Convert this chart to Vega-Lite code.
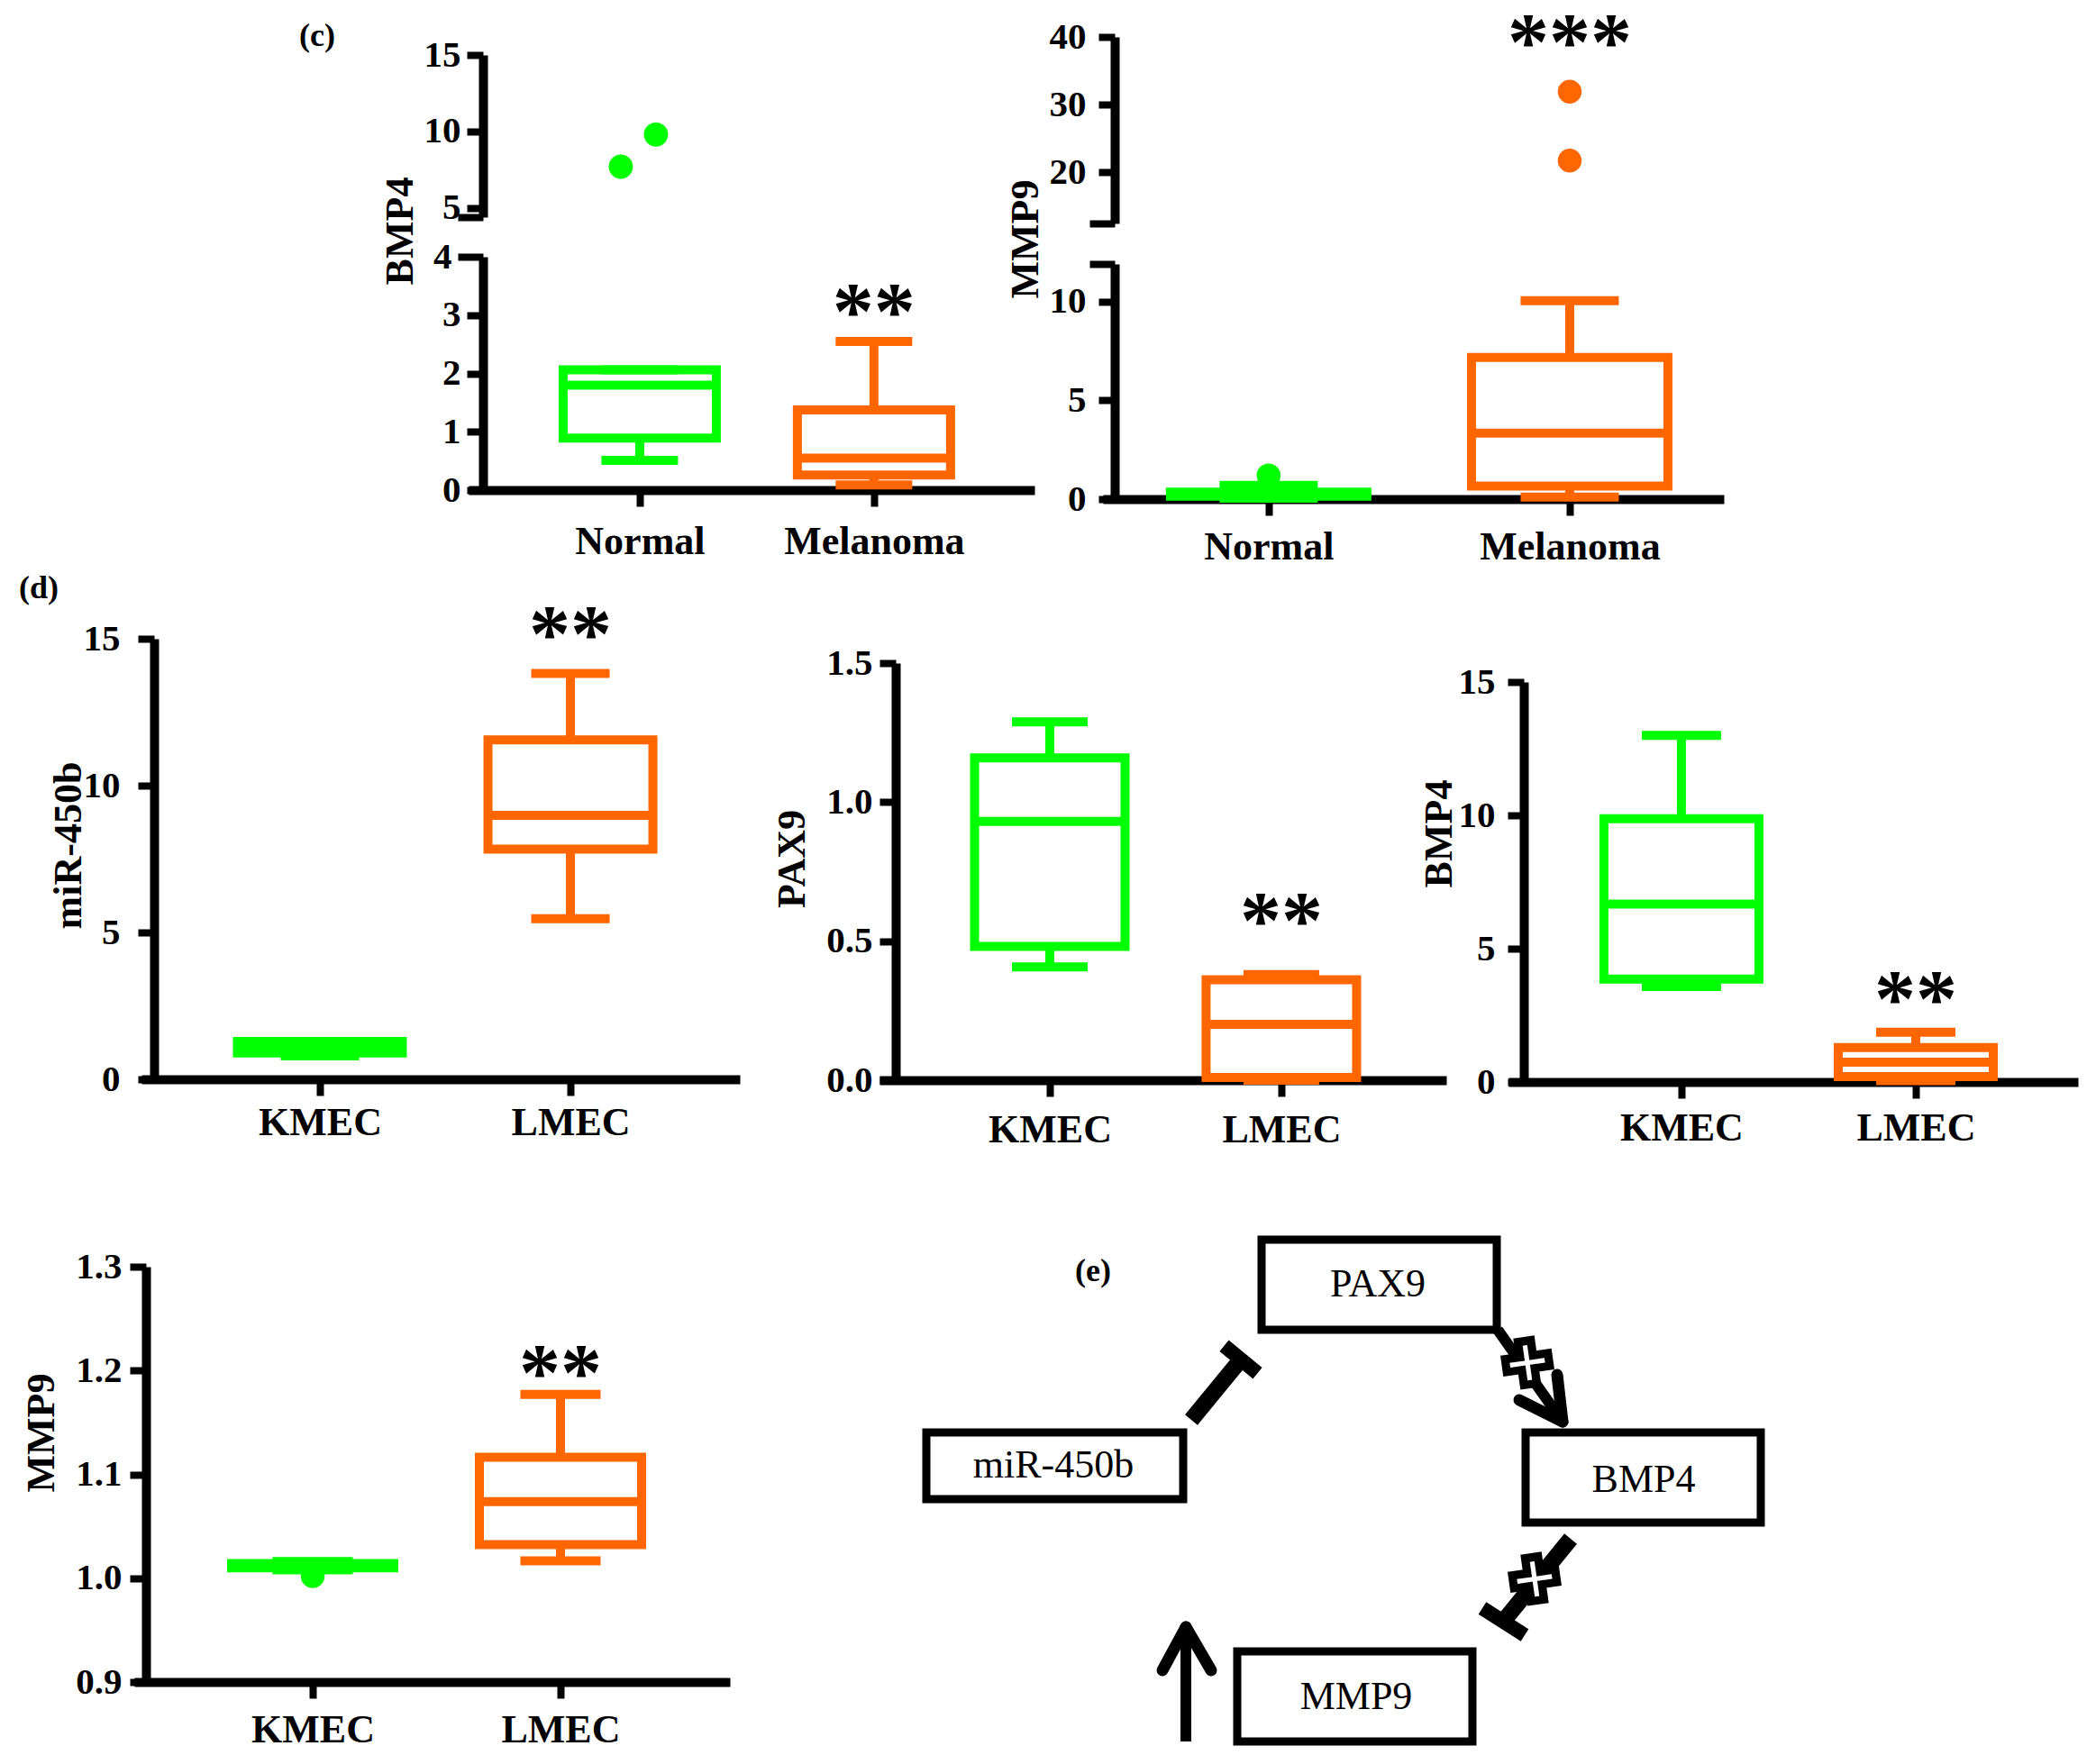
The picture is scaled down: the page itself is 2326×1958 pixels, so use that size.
{
"$schema":"https://vega.github.io/schema/vega-lite/v6.json",
"width":2326,"height":1958,"autosize":{"type":"none"},"padding":0,"background":"white",
"config":{
 "view":{"stroke":null},
 "axis":{"domainColor":"#000000","domainWidth":10,"tickColor":"#000000","tickWidth":8,"tickSize":18,
  "labelFont":"Liberation Serif","labelFontWeight":"bold","labelFontSize":41,"labelColor":"#000000","labelLimit":0,
  "titleFont":"Liberation Serif","titleFontWeight":"bold","titleFontSize":44,"titleColor":"#000000","titleLimit":0,
  "grid":false,"labelOverlap":false,"labelFlush":false},
 "axisX":{"labelFontSize":44,"labelAngle":0},
 "axisY":{"titleAngle":270,"titleAlign":"center","titleBaseline":"middle"},
 "tick":{"opacity":1}
},
"datasets":{
 "boxes":[
  {"panel":"c_bmp4","group":"Normal","min":0.51,"q1":0.89,"median":1.8,"q3":2.06,"max":2.06},
  {"panel":"c_bmp4","group":"Melanoma","min":0.09,"q1":0.26,"median":0.55,"q3":1.375,"max":2.55},
  {"panel":"c_mmp9","group":"Normal","min":0.05,"q1":0.15,"median":0.25,"q3":0.35,"max":0.7},
  {"panel":"c_mmp9","group":"Melanoma","min":0.1,"q1":0.66,"median":3.34,"q3":7.17,"max":10.04},
  {"panel":"d_mir","group":"KMEC","min":0.8,"q1":0.9,"median":1.05,"q3":1.29,"max":1.29},
  {"panel":"d_mir","group":"LMEC","min":5.47,"q1":7.84,"median":8.99,"q3":11.56,"max":13.82},
  {"panel":"d_pax9","group":"KMEC","min":0.407,"q1":0.481,"median":0.931,"q3":1.159,"max":1.289},
  {"panel":"d_pax9","group":"LMEC","min":0.0,"q1":0.01,"median":0.201,"q3":0.361,"max":0.38},
  {"panel":"d_bmp4","group":"KMEC","min":3.58,"q1":3.86,"median":6.67,"q3":9.87,"max":13.0},
  {"panel":"d_bmp4","group":"LMEC","min":0.05,"q1":0.2,"median":0.74,"q3":1.29,"max":1.87},
  {"panel":"d_mmp9","group":"KMEC","min":1.008,"q1":1.01,"median":1.012,"q3":1.014,"max":1.016},
  {"panel":"d_mmp9","group":"LMEC","min":1.0168,"q1":1.0323,"median":1.0737,"q3":1.1165,"max":1.177}
 ],
 "outliers":[
  {"panel":"c_bmp4","group":"Normal","value":7.7},
  {"panel":"c_bmp4","group":"Normal","value":9.8},
  {"panel":"c_mmp9","group":"Normal","value":1.2},
  {"panel":"c_mmp9","group":"Melanoma","value":21.7},
  {"panel":"c_mmp9","group":"Melanoma","value":31.9},
  {"panel":"d_mmp9","group":"KMEC","value":1.002}
 ],
 "notes":[
  {"panel":"c_bmp4","group":"Melanoma","value":2.59,"label":"**"},
  {"panel":"c_mmp9","group":"Melanoma","value":35.2,"label":"***"},
  {"panel":"d_mir","group":"LMEC","value":14.23,"label":"**"},
  {"panel":"d_pax9","group":"LMEC","value":0.476,"label":"**"},
  {"panel":"d_bmp4","group":"LMEC","value":2.09,"label":"**"},
  {"panel":"d_mmp9","group":"LMEC","value":1.172,"label":"**"}
 ],
 "dgm_nodes":[
  {"label":"PAX9","x1":40.0,"x2":66.1,"y1":2.6,"y2":12.6,"tx":52.9,"ty":7.6},
  {"label":"miR-450b","x1":2.8,"x2":31.3,"y1":24.0,"y2":31.4,"tx":16.9,"ty":27.7},
  {"label":"BMP4","x1":69.3,"x2":95.4,"y1":24.0,"y2":34.0,"tx":82.4,"ty":29.3},
  {"label":"MMP9","x1":37.3,"x2":63.4,"y1":48.3,"y2":58.3,"tx":50.5,"ty":53.4}
 ],
 "dgm_lines":[
  {"part":"inhibit","x1":32.2,"y1":22.6,"x2":37.7,"y2":15.9},
  {"part":"bar","x1":35.85,"y1":14.38,"x2":39.55,"y2":17.42},
  {"part":"shaft","x1":66.2,"y1":12.6,"x2":73.4,"y2":22.8},
  {"part":"head","x1":68.6,"y1":20.4,"x2":73.4,"y2":22.8},
  {"part":"head","x1":72.8,"y1":17.6,"x2":73.4,"y2":22.8},
  {"part":"inhibit","x1":74.3,"y1":35.8,"x2":66.8,"y2":45.0},
  {"part":"bar","x1":64.5,"y1":43.5,"x2":69.2,"y2":46.5},
  {"part":"shaft","x1":31.6,"y1":58.3,"x2":31.6,"y2":45.6},
  {"part":"head","x1":29.0,"y1":50.4,"x2":31.6,"y2":45.6},
  {"part":"head","x1":34.4,"y1":50.4,"x2":31.6,"y2":45.6}
 ],
 "dgm_plus":[{"x":69.5,"y":16.3},{"x":70.3,"y":40.3}],
 "figlabels":[
  {"label":"(c)","x":0.1513,"y":0.0204},
  {"label":"(d)","x":0.0185,"y":0.3335},
  {"label":"(e)","x":0.5215,"y":0.7206}
 ]
},
"resolve":{"scale":{"x":"independent","y":"independent"},"axis":{"x":"independent","y":"independent"}},
"layer":[
 {
  "data":{"name":"outliers"},
  "transform":[{"filter":"datum.panel == 'c_bmp4'"}],
  "encoding":{"x":{"field":"group","type":"nominal","scale":{"type":"point","domain":["Normal","Melanoma"],"range":[520,1148],"padding":0.708,"align":0.516},"axis":null}},
  "layer":[
   {"transform":[{"filter":"datum.value < 8.5"}],"mark":{"type":"point","filled":true,"size":720,"opacity":1,"strokeWidth":0,"xOffset":-21},
    "encoding":{"y":{"field":"value","type":"quantitative","scale":{"domain":[4.4,15],"range":[241,61],"nice":false,"zero":false},
      "axis":{"orient":"left","offset":-536,"values":[4.4,5,10,15],"format":"d","labelExpr":"datum.value == 4.4 ? '' : datum.label","tickSize":{"condition":{"test":"datum.value == 4.4","value":28},"value":18},"labelPadding":7,"title":null}},
     "color":{"field":"group","type":"nominal","scale":{"domain":["Normal","Melanoma","KMEC","LMEC"],"range":["#00ff00","#ff6600","#00ff00","#ff6600"]},"legend":null}}},
   {"transform":[{"filter":"datum.value >= 8.5"}],"mark":{"type":"point","filled":true,"size":720,"opacity":1,"strokeWidth":0,"xOffset":18},
    "encoding":{"y":{"field":"value","type":"quantitative","scale":{"domain":[4.4,15],"range":[241,61],"nice":false,"zero":false},"axis":{"title":null}},
     "color":{"field":"group","type":"nominal","scale":{"domain":["Normal","Melanoma","KMEC","LMEC"],"range":["#00ff00","#ff6600","#00ff00","#ff6600"]},"legend":null}}}
  ]
 },
 {
  "data":{"name":"boxes"},
  "transform":[{"filter":"datum.panel == 'c_bmp4'"}],
  "encoding":{"x":{"field":"group","type":"nominal","scale":{"type":"point","domain":["Normal","Melanoma"],"range":[520,1148],"padding":0.708,"align":0.516},"axis":{"orient":"bottom","offset":-1414,"labelPadding":17,"title":null}}},
  "layer":[
   {"mark":{"type":"rule","strokeWidth":10},"encoding":{"y":{"field":"min","type":"quantitative","scale":{"domain":[0,4],"range":[544,285],"nice":false,"zero":false},
     "axis":{"orient":"left","offset":-536,"values":[0,1,2,3,4],"format":"d","tickSize":{"condition":{"test":"datum.value == 4","value":28},"value":18},"labelPadding":7,"title":"BMP4","titleX":-92,"titleY":256}},
     "y2":{"field":"q1"},"color":{"field":"group","type":"nominal","scale":{"domain":["Normal","Melanoma","KMEC","LMEC"],"range":["#00ff00","#ff6600","#00ff00","#ff6600"]},"legend":null}}},
   {"mark":{"type":"rule","strokeWidth":10},"encoding":{"y":{"field":"q3","type":"quantitative","scale":{"domain":[0,4],"range":[544,285],"nice":false,"zero":false}},"y2":{"field":"max"},"color":{"field":"group","type":"nominal","scale":{"domain":["Normal","Melanoma","KMEC","LMEC"],"range":["#00ff00","#ff6600","#00ff00","#ff6600"]},"legend":null}}},
   {"mark":{"type":"bar","fill":"white","strokeWidth":10,"width":170},"encoding":{"y":{"field":"q1","type":"quantitative","scale":{"domain":[0,4],"range":[544,285],"nice":false,"zero":false}},"y2":{"field":"q3"},"stroke":{"field":"group","type":"nominal","scale":{"domain":["Normal","Melanoma","KMEC","LMEC"],"range":["#00ff00","#ff6600","#00ff00","#ff6600"]},"legend":null}}},
   {"mark":{"type":"tick","thickness":10,"size":170,"opacity":1},"encoding":{"y":{"field":"median","type":"quantitative","scale":{"domain":[0,4],"range":[544,285],"nice":false,"zero":false}},"color":{"field":"group","type":"nominal","scale":{"domain":["Normal","Melanoma","KMEC","LMEC"],"range":["#00ff00","#ff6600","#00ff00","#ff6600"]},"legend":null}}},
   {"mark":{"type":"tick","thickness":10,"size":85,"opacity":1},"encoding":{"y":{"field":"min","type":"quantitative","scale":{"domain":[0,4],"range":[544,285],"nice":false,"zero":false}},"color":{"field":"group","type":"nominal","scale":{"domain":["Normal","Melanoma","KMEC","LMEC"],"range":["#00ff00","#ff6600","#00ff00","#ff6600"]},"legend":null}}},
   {"mark":{"type":"tick","thickness":10,"size":85,"opacity":1},"encoding":{"y":{"field":"max","type":"quantitative","scale":{"domain":[0,4],"range":[544,285],"nice":false,"zero":false}},"color":{"field":"group","type":"nominal","scale":{"domain":["Normal","Melanoma","KMEC","LMEC"],"range":["#00ff00","#ff6600","#00ff00","#ff6600"]},"legend":null}}},
   {"data":{"name":"notes"},"transform":[{"filter":"datum.panel == 'c_bmp4'"}],"mark":{"type":"text","font":"Liberation Serif","fontWeight":"bold","fontSize":92,"baseline":"alphabetic","align":"center","color":"black"},
    "encoding":{"y":{"field":"value","type":"quantitative","scale":{"domain":[0,4],"range":[544,285],"nice":false,"zero":false}},"text":{"field":"label"}}}
  ]
 },
 {
  "data":{"name":"outliers"},
  "transform":[{"filter":"datum.panel == 'c_mmp9' && datum.value > 12"}],
  "encoding":{"x":{"field":"group","type":"nominal","scale":{"type":"point","domain":["Normal","Melanoma"],"range":[1224,1913],"padding":0.531,"align":0.518},"axis":null}},
  "layer":[
   {"mark":{"type":"point","filled":true,"size":700,"opacity":1,"strokeWidth":0},
    "encoding":{"y":{"field":"value","type":"quantitative","scale":{"domain":[12.4,40],"range":[248,41],"nice":false,"zero":false},
      "axis":{"orient":"left","offset":-1237,"values":[12.4,20,30,40],"format":"d","labelExpr":"datum.value == 12.4 ? '' : datum.label","tickSize":{"condition":{"test":"datum.value == 12.4","value":28},"value":18},"labelPadding":14,"title":null}},
     "color":{"field":"group","type":"nominal","scale":{"domain":["Normal","Melanoma","KMEC","LMEC"],"range":["#00ff00","#ff6600","#00ff00","#ff6600"]},"legend":null}}},
   {"data":{"name":"notes"},"transform":[{"filter":"datum.panel == 'c_mmp9'"}],"mark":{"type":"text","font":"Liberation Serif","fontWeight":"bold","fontSize":92,"baseline":"alphabetic","align":"center","color":"black"},
    "encoding":{"y":{"field":"value","type":"quantitative","scale":{"domain":[12.4,40],"range":[248,41],"nice":false,"zero":false},"axis":{"title":null}},"text":{"field":"label"}}}
  ]
 },
 {
  "data":{"name":"boxes"},
  "transform":[{"filter":"datum.panel == 'c_mmp9'"}],
  "encoding":{"x":{"field":"group","type":"nominal","scale":{"type":"point","domain":["Normal","Melanoma"],"range":[1224,1913],"padding":0.531,"align":0.518},"axis":{"orient":"bottom","offset":-1404,"labelPadding":13,"title":null}}},
  "layer":[
   {"mark":{"type":"rule","strokeWidth":10},"encoding":{"y":{"field":"min","type":"quantitative","scale":{"domain":[0,11.9],"range":[554,293],"nice":false,"zero":false},
     "axis":{"orient":"left","offset":-1237,"values":[0,5,10,11.9],"format":"d","labelExpr":"datum.value == 11.9 ? '' : datum.label","tickSize":{"condition":{"test":"datum.value == 11.9","value":28},"value":18},"labelPadding":14,"title":"MMP9","titleX":-99,"titleY":265}},
     "y2":{"field":"q1"},"color":{"field":"group","type":"nominal","scale":{"domain":["Normal","Melanoma","KMEC","LMEC"],"range":["#00ff00","#ff6600","#00ff00","#ff6600"]},"legend":null}}},
   {"mark":{"type":"rule","strokeWidth":10},"encoding":{"y":{"field":"q3","type":"quantitative","scale":{"domain":[0,11.9],"range":[554,293],"nice":false,"zero":false}},"y2":{"field":"max"},"color":{"field":"group","type":"nominal","scale":{"domain":["Normal","Melanoma","KMEC","LMEC"],"range":["#00ff00","#ff6600","#00ff00","#ff6600"]},"legend":null}}},
   {"mark":{"type":"bar","fill":"white","strokeWidth":10,"width":218},"encoding":{"y":{"field":"q1","type":"quantitative","scale":{"domain":[0,11.9],"range":[554,293],"nice":false,"zero":false}},"y2":{"field":"q3"},"stroke":{"field":"group","type":"nominal","scale":{"domain":["Normal","Melanoma","KMEC","LMEC"],"range":["#00ff00","#ff6600","#00ff00","#ff6600"]},"legend":null}}},
   {"mark":{"type":"tick","thickness":10,"size":218,"opacity":1},"encoding":{"y":{"field":"median","type":"quantitative","scale":{"domain":[0,11.9],"range":[554,293],"nice":false,"zero":false}},"color":{"field":"group","type":"nominal","scale":{"domain":["Normal","Melanoma","KMEC","LMEC"],"range":["#00ff00","#ff6600","#00ff00","#ff6600"]},"legend":null}}},
   {"mark":{"type":"tick","thickness":10,"size":109,"opacity":1},"encoding":{"y":{"field":"min","type":"quantitative","scale":{"domain":[0,11.9],"range":[554,293],"nice":false,"zero":false}},"color":{"field":"group","type":"nominal","scale":{"domain":["Normal","Melanoma","KMEC","LMEC"],"range":["#00ff00","#ff6600","#00ff00","#ff6600"]},"legend":null}}},
   {"mark":{"type":"tick","thickness":10,"size":109,"opacity":1},"encoding":{"y":{"field":"max","type":"quantitative","scale":{"domain":[0,11.9],"range":[554,293],"nice":false,"zero":false}},"color":{"field":"group","type":"nominal","scale":{"domain":["Normal","Melanoma","KMEC","LMEC"],"range":["#00ff00","#ff6600","#00ff00","#ff6600"]},"legend":null}}},
   {"data":{"name":"outliers"},"transform":[{"filter":"datum.panel == 'c_mmp9' && datum.value < 12"}],"mark":{"type":"point","filled":true,"size":700,"opacity":1,"strokeWidth":0},
    "encoding":{"y":{"field":"value","type":"quantitative","scale":{"domain":[0,11.9],"range":[554,293],"nice":false,"zero":false}},"color":{"field":"group","type":"nominal","scale":{"domain":["Normal","Melanoma","KMEC","LMEC"],"range":["#00ff00","#ff6600","#00ff00","#ff6600"]},"legend":null}}}
  ]
 },
 {
  "data":{"name":"boxes"},
  "transform":[{"filter":"datum.panel == 'd_mir'"}],
  "encoding":{"x":{"field":"group","type":"nominal","scale":{"type":"point","domain":["KMEC","LMEC"],"range":[157,821],"padding":0.694,"align":0.513},"axis":{"orient":"bottom","offset":-760,"labelPadding":8,"title":null}}},
  "layer":[
   {"mark":{"type":"rule","strokeWidth":10},"encoding":{"y":{"field":"min","type":"quantitative","scale":{"domain":[0,15],"range":[1198,709],"nice":false,"zero":false},
     "axis":{"orient":"left","offset":-171,"values":[0,5,10,15],"format":"d","labelPadding":20,"title":"miR-450b","titleX":-95,"titleY":938}},
     "y2":{"field":"q1"},"color":{"field":"group","type":"nominal","scale":{"domain":["Normal","Melanoma","KMEC","LMEC"],"range":["#00ff00","#ff6600","#00ff00","#ff6600"]},"legend":null}}},
   {"mark":{"type":"rule","strokeWidth":10},"encoding":{"y":{"field":"q3","type":"quantitative","scale":{"domain":[0,15],"range":[1198,709],"nice":false,"zero":false}},"y2":{"field":"max"},"color":{"field":"group","type":"nominal","scale":{"domain":["Normal","Melanoma","KMEC","LMEC"],"range":["#00ff00","#ff6600","#00ff00","#ff6600"]},"legend":null}}},
   {"mark":{"type":"bar","fill":"white","strokeWidth":10,"width":183},"encoding":{"y":{"field":"q1","type":"quantitative","scale":{"domain":[0,15],"range":[1198,709],"nice":false,"zero":false}},"y2":{"field":"q3"},"stroke":{"field":"group","type":"nominal","scale":{"domain":["Normal","Melanoma","KMEC","LMEC"],"range":["#00ff00","#ff6600","#00ff00","#ff6600"]},"legend":null}}},
   {"mark":{"type":"tick","thickness":10,"size":183,"opacity":1},"encoding":{"y":{"field":"median","type":"quantitative","scale":{"domain":[0,15],"range":[1198,709],"nice":false,"zero":false}},"color":{"field":"group","type":"nominal","scale":{"domain":["Normal","Melanoma","KMEC","LMEC"],"range":["#00ff00","#ff6600","#00ff00","#ff6600"]},"legend":null}}},
   {"mark":{"type":"tick","thickness":10,"size":87,"opacity":1},"encoding":{"y":{"field":"min","type":"quantitative","scale":{"domain":[0,15],"range":[1198,709],"nice":false,"zero":false}},"color":{"field":"group","type":"nominal","scale":{"domain":["Normal","Melanoma","KMEC","LMEC"],"range":["#00ff00","#ff6600","#00ff00","#ff6600"]},"legend":null}}},
   {"mark":{"type":"tick","thickness":10,"size":87,"opacity":1},"encoding":{"y":{"field":"max","type":"quantitative","scale":{"domain":[0,15],"range":[1198,709],"nice":false,"zero":false}},"color":{"field":"group","type":"nominal","scale":{"domain":["Normal","Melanoma","KMEC","LMEC"],"range":["#00ff00","#ff6600","#00ff00","#ff6600"]},"legend":null}}},
   {"data":{"name":"notes"},"transform":[{"filter":"datum.panel == 'd_mir'"}],"mark":{"type":"text","font":"Liberation Serif","fontWeight":"bold","fontSize":92,"baseline":"alphabetic","align":"center","color":"black"},
    "encoding":{"y":{"field":"value","type":"quantitative","scale":{"domain":[0,15],"range":[1198,709],"nice":false,"zero":false}},"text":{"field":"label"}}}
  ]
 },
 {
  "data":{"name":"boxes"},
  "transform":[{"filter":"datum.panel == 'd_pax9'"}],
  "encoding":{"x":{"field":"group","type":"nominal","scale":{"type":"point","domain":["KMEC","LMEC"],"range":[976,1605],"padding":0.724,"align":0.508},"axis":{"orient":"bottom","offset":-759,"labelPadding":15,"title":null}}},
  "layer":[
   {"mark":{"type":"rule","strokeWidth":10},"encoding":{"y":{"field":"min","type":"quantitative","scale":{"domain":[0,1.5],"range":[1199,736],"nice":false,"zero":false},
     "axis":{"orient":"left","offset":-994,"values":[0,0.5,1,1.5],"format":".1f","labelPadding":8,"title":"PAX9","titleX":-115,"titleY":953}},
     "y2":{"field":"q1"},"color":{"field":"group","type":"nominal","scale":{"domain":["Normal","Melanoma","KMEC","LMEC"],"range":["#00ff00","#ff6600","#00ff00","#ff6600"]},"legend":null}}},
   {"mark":{"type":"rule","strokeWidth":10},"encoding":{"y":{"field":"q3","type":"quantitative","scale":{"domain":[0,1.5],"range":[1199,736],"nice":false,"zero":false}},"y2":{"field":"max"},"color":{"field":"group","type":"nominal","scale":{"domain":["Normal","Melanoma","KMEC","LMEC"],"range":["#00ff00","#ff6600","#00ff00","#ff6600"]},"legend":null}}},
   {"mark":{"type":"bar","fill":"white","strokeWidth":10,"width":167},"encoding":{"y":{"field":"q1","type":"quantitative","scale":{"domain":[0,1.5],"range":[1199,736],"nice":false,"zero":false}},"y2":{"field":"q3"},"stroke":{"field":"group","type":"nominal","scale":{"domain":["Normal","Melanoma","KMEC","LMEC"],"range":["#00ff00","#ff6600","#00ff00","#ff6600"]},"legend":null}}},
   {"mark":{"type":"tick","thickness":10,"size":167,"opacity":1},"encoding":{"y":{"field":"median","type":"quantitative","scale":{"domain":[0,1.5],"range":[1199,736],"nice":false,"zero":false}},"color":{"field":"group","type":"nominal","scale":{"domain":["Normal","Melanoma","KMEC","LMEC"],"range":["#00ff00","#ff6600","#00ff00","#ff6600"]},"legend":null}}},
   {"mark":{"type":"tick","thickness":10,"size":84,"opacity":1},"encoding":{"y":{"field":"min","type":"quantitative","scale":{"domain":[0,1.5],"range":[1199,736],"nice":false,"zero":false}},"color":{"field":"group","type":"nominal","scale":{"domain":["Normal","Melanoma","KMEC","LMEC"],"range":["#00ff00","#ff6600","#00ff00","#ff6600"]},"legend":null}}},
   {"mark":{"type":"tick","thickness":10,"size":84,"opacity":1},"encoding":{"y":{"field":"max","type":"quantitative","scale":{"domain":[0,1.5],"range":[1199,736],"nice":false,"zero":false}},"color":{"field":"group","type":"nominal","scale":{"domain":["Normal","Melanoma","KMEC","LMEC"],"range":["#00ff00","#ff6600","#00ff00","#ff6600"]},"legend":null}}},
   {"data":{"name":"notes"},"transform":[{"filter":"datum.panel == 'd_pax9'"}],"mark":{"type":"text","font":"Liberation Serif","fontWeight":"bold","fontSize":92,"baseline":"alphabetic","align":"center","color":"black"},
    "encoding":{"y":{"field":"value","type":"quantitative","scale":{"domain":[0,1.5],"range":[1199,736],"nice":false,"zero":false}},"text":{"field":"label"}}}
  ]
 },
 {
  "data":{"name":"boxes"},
  "transform":[{"filter":"datum.panel == 'd_bmp4'"}],
  "encoding":{"x":{"field":"group","type":"nominal","scale":{"type":"point","domain":["KMEC","LMEC"],"range":[1674,2306],"padding":0.715,"align":0.516},"axis":{"orient":"bottom","offset":-757,"labelPadding":11,"title":null}}},
  "layer":[
   {"mark":{"type":"rule","strokeWidth":10},"encoding":{"y":{"field":"min","type":"quantitative","scale":{"domain":[0,15],"range":[1201,757],"nice":false,"zero":false},
     "axis":{"orient":"left","offset":-1691,"values":[0,5,10,15],"format":"d","labelPadding":14,"title":"BMP4","titleX":-94,"titleY":925}},
     "y2":{"field":"q1"},"color":{"field":"group","type":"nominal","scale":{"domain":["Normal","Melanoma","KMEC","LMEC"],"range":["#00ff00","#ff6600","#00ff00","#ff6600"]},"legend":null}}},
   {"mark":{"type":"rule","strokeWidth":10},"encoding":{"y":{"field":"q3","type":"quantitative","scale":{"domain":[0,15],"range":[1201,757],"nice":false,"zero":false}},"y2":{"field":"max"},"color":{"field":"group","type":"nominal","scale":{"domain":["Normal","Melanoma","KMEC","LMEC"],"range":["#00ff00","#ff6600","#00ff00","#ff6600"]},"legend":null}}},
   {"mark":{"type":"bar","fill":"white","strokeWidth":10,"width":172},"encoding":{"y":{"field":"q1","type":"quantitative","scale":{"domain":[0,15],"range":[1201,757],"nice":false,"zero":false}},"y2":{"field":"q3"},"stroke":{"field":"group","type":"nominal","scale":{"domain":["Normal","Melanoma","KMEC","LMEC"],"range":["#00ff00","#ff6600","#00ff00","#ff6600"]},"legend":null}}},
   {"mark":{"type":"tick","thickness":10,"size":172,"opacity":1},"encoding":{"y":{"field":"median","type":"quantitative","scale":{"domain":[0,15],"range":[1201,757],"nice":false,"zero":false}},"color":{"field":"group","type":"nominal","scale":{"domain":["Normal","Melanoma","KMEC","LMEC"],"range":["#00ff00","#ff6600","#00ff00","#ff6600"]},"legend":null}}},
   {"mark":{"type":"tick","thickness":10,"size":88,"opacity":1},"encoding":{"y":{"field":"min","type":"quantitative","scale":{"domain":[0,15],"range":[1201,757],"nice":false,"zero":false}},"color":{"field":"group","type":"nominal","scale":{"domain":["Normal","Melanoma","KMEC","LMEC"],"range":["#00ff00","#ff6600","#00ff00","#ff6600"]},"legend":null}}},
   {"mark":{"type":"tick","thickness":10,"size":88,"opacity":1},"encoding":{"y":{"field":"max","type":"quantitative","scale":{"domain":[0,15],"range":[1201,757],"nice":false,"zero":false}},"color":{"field":"group","type":"nominal","scale":{"domain":["Normal","Melanoma","KMEC","LMEC"],"range":["#00ff00","#ff6600","#00ff00","#ff6600"]},"legend":null}}},
   {"data":{"name":"notes"},"transform":[{"filter":"datum.panel == 'd_bmp4'"}],"mark":{"type":"text","font":"Liberation Serif","fontWeight":"bold","fontSize":92,"baseline":"alphabetic","align":"center","color":"black"},
    "encoding":{"y":{"field":"value","type":"quantitative","scale":{"domain":[0,15],"range":[1201,757],"nice":false,"zero":false}},"text":{"field":"label"}}}
  ]
 },
 {
  "data":{"name":"boxes"},
  "transform":[{"filter":"datum.panel == 'd_mmp9'"}],
  "encoding":{"x":{"field":"group","type":"nominal","scale":{"type":"point","domain":["KMEC","LMEC"],"range":[149,810],"padding":0.702,"align":0.513},"axis":{"orient":"bottom","offset":-91,"labelPadding":13,"title":null}}},
  "layer":[
   {"mark":{"type":"rule","strokeWidth":10},"encoding":{"y":{"field":"min","type":"quantitative","scale":{"domain":[0.9,1.3],"range":[1867,1406],"nice":false,"zero":false},
     "axis":{"orient":"left","offset":-162,"values":[0.9,1.0,1.1,1.2,1.3],"format":".1f","labelPadding":9,"title":"MMP9","titleX":-116,"titleY":1590}},
     "y2":{"field":"q1"},"color":{"field":"group","type":"nominal","scale":{"domain":["Normal","Melanoma","KMEC","LMEC"],"range":["#00ff00","#ff6600","#00ff00","#ff6600"]},"legend":null}}},
   {"mark":{"type":"rule","strokeWidth":10},"encoding":{"y":{"field":"q3","type":"quantitative","scale":{"domain":[0.9,1.3],"range":[1867,1406],"nice":false,"zero":false}},"y2":{"field":"max"},"color":{"field":"group","type":"nominal","scale":{"domain":["Normal","Melanoma","KMEC","LMEC"],"range":["#00ff00","#ff6600","#00ff00","#ff6600"]},"legend":null}}},
   {"mark":{"type":"bar","fill":"white","strokeWidth":10,"width":180},"encoding":{"y":{"field":"q1","type":"quantitative","scale":{"domain":[0.9,1.3],"range":[1867,1406],"nice":false,"zero":false}},"y2":{"field":"q3"},"stroke":{"field":"group","type":"nominal","scale":{"domain":["Normal","Melanoma","KMEC","LMEC"],"range":["#00ff00","#ff6600","#00ff00","#ff6600"]},"legend":null}}},
   {"mark":{"type":"tick","thickness":10,"size":180,"opacity":1},"encoding":{"y":{"field":"median","type":"quantitative","scale":{"domain":[0.9,1.3],"range":[1867,1406],"nice":false,"zero":false}},"color":{"field":"group","type":"nominal","scale":{"domain":["Normal","Melanoma","KMEC","LMEC"],"range":["#00ff00","#ff6600","#00ff00","#ff6600"]},"legend":null}}},
   {"mark":{"type":"tick","thickness":10,"size":89,"opacity":1},"encoding":{"y":{"field":"min","type":"quantitative","scale":{"domain":[0.9,1.3],"range":[1867,1406],"nice":false,"zero":false}},"color":{"field":"group","type":"nominal","scale":{"domain":["Normal","Melanoma","KMEC","LMEC"],"range":["#00ff00","#ff6600","#00ff00","#ff6600"]},"legend":null}}},
   {"mark":{"type":"tick","thickness":10,"size":89,"opacity":1},"encoding":{"y":{"field":"max","type":"quantitative","scale":{"domain":[0.9,1.3],"range":[1867,1406],"nice":false,"zero":false}},"color":{"field":"group","type":"nominal","scale":{"domain":["Normal","Melanoma","KMEC","LMEC"],"range":["#00ff00","#ff6600","#00ff00","#ff6600"]},"legend":null}}},
   {"data":{"name":"outliers"},"transform":[{"filter":"datum.panel == 'd_mmp9'"}],"mark":{"type":"point","filled":true,"size":700,"opacity":1,"strokeWidth":0},
    "encoding":{"y":{"field":"value","type":"quantitative","scale":{"domain":[0.9,1.3],"range":[1867,1406],"nice":false,"zero":false}},"color":{"field":"group","type":"nominal","scale":{"domain":["Normal","Melanoma","KMEC","LMEC"],"range":["#00ff00","#ff6600","#00ff00","#ff6600"]},"legend":null}}},
   {"data":{"name":"notes"},"transform":[{"filter":"datum.panel == 'd_mmp9'"}],"mark":{"type":"text","font":"Liberation Serif","fontWeight":"bold","fontSize":92,"baseline":"alphabetic","align":"center","color":"black"},
    "encoding":{"y":{"field":"value","type":"quantitative","scale":{"domain":[0.9,1.3],"range":[1867,1406],"nice":false,"zero":false}},"text":{"field":"label"}}}
  ]
 },
 {
  "layer":[
   {"data":{"name":"dgm_nodes"},"mark":{"type":"rect","fill":"white","stroke":"black","strokeWidth":9},
    "encoding":{"x":{"field":"x1","type":"quantitative","scale":{"domain":[0,100],"range":[1000,2000],"nice":false,"zero":false},"axis":null},"x2":{"field":"x2"},
     "y":{"field":"y1","type":"quantitative","scale":{"domain":[0,60],"range":[1350,1950],"nice":false,"zero":false},"axis":null},"y2":{"field":"y2"}}},
   {"data":{"name":"dgm_nodes"},"mark":{"type":"text","font":"Liberation Serif","fontSize":44,"color":"black","align":"center","baseline":"middle"},
    "encoding":{"x":{"field":"tx","type":"quantitative","scale":{"domain":[0,100],"range":[1000,2000],"nice":false,"zero":false},"axis":null},
     "y":{"field":"ty","type":"quantitative","scale":{"domain":[0,60],"range":[1350,1950],"nice":false,"zero":false},"axis":null},"text":{"field":"label"}}},
   {"data":{"name":"dgm_lines"},"transform":[{"filter":"datum.part == 'shaft'"}],"mark":{"type":"rule","color":"black","strokeWidth":12,"strokeCap":"butt"},
    "encoding":{"x":{"field":"x1","type":"quantitative","scale":{"domain":[0,100],"range":[1000,2000],"nice":false,"zero":false},"axis":null},"x2":{"field":"x2"},
     "y":{"field":"y1","type":"quantitative","scale":{"domain":[0,60],"range":[1350,1950],"nice":false,"zero":false},"axis":null},"y2":{"field":"y2"}}},
   {"data":{"name":"dgm_lines"},"transform":[{"filter":"datum.part == 'inhibit'"}],"mark":{"type":"rule","color":"black","strokeWidth":18,"strokeCap":"butt"},
    "encoding":{"x":{"field":"x1","type":"quantitative","scale":{"domain":[0,100],"range":[1000,2000],"nice":false,"zero":false},"axis":null},"x2":{"field":"x2"},
     "y":{"field":"y1","type":"quantitative","scale":{"domain":[0,60],"range":[1350,1950],"nice":false,"zero":false},"axis":null},"y2":{"field":"y2"}}},
   {"data":{"name":"dgm_lines"},"transform":[{"filter":"datum.part == 'bar'"}],"mark":{"type":"rule","color":"black","strokeWidth":16,"strokeCap":"butt"},
    "encoding":{"x":{"field":"x1","type":"quantitative","scale":{"domain":[0,100],"range":[1000,2000],"nice":false,"zero":false},"axis":null},"x2":{"field":"x2"},
     "y":{"field":"y1","type":"quantitative","scale":{"domain":[0,60],"range":[1350,1950],"nice":false,"zero":false},"axis":null},"y2":{"field":"y2"}}},
   {"data":{"name":"dgm_lines"},"transform":[{"filter":"datum.part == 'head'"}],"mark":{"type":"rule","color":"black","strokeWidth":13,"strokeCap":"round"},
    "encoding":{"x":{"field":"x1","type":"quantitative","scale":{"domain":[0,100],"range":[1000,2000],"nice":false,"zero":false},"axis":null},"x2":{"field":"x2"},
     "y":{"field":"y1","type":"quantitative","scale":{"domain":[0,60],"range":[1350,1950],"nice":false,"zero":false},"axis":null},"y2":{"field":"y2"}}},
   {"data":{"name":"dgm_plus"},"mark":{"type":"text","text":"+","font":"DejaVu Sans","fontWeight":"bold","fontSize":66,"fill":"black","stroke":"black","strokeWidth":16,"strokeJoin":"miter","align":"center","baseline":"middle","angle":-8},
    "encoding":{"x":{"field":"x","type":"quantitative","scale":{"domain":[0,100],"range":[1000,2000],"nice":false,"zero":false},"axis":null},
     "y":{"field":"y","type":"quantitative","scale":{"domain":[0,60],"range":[1350,1950],"nice":false,"zero":false},"axis":null}}},
   {"data":{"name":"dgm_plus"},"mark":{"type":"text","text":"+","font":"DejaVu Sans","fontSize":62,"fill":"white","align":"center","baseline":"middle","angle":-8},
    "encoding":{"x":{"field":"x","type":"quantitative","scale":{"domain":[0,100],"range":[1000,2000],"nice":false,"zero":false},"axis":null},
     "y":{"field":"y","type":"quantitative","scale":{"domain":[0,60],"range":[1350,1950],"nice":false,"zero":false},"axis":null}}}
  ]
 },
 {
  "data":{"name":"figlabels"},
  "mark":{"type":"text","font":"Liberation Serif","fontWeight":"bold","fontSize":36,"align":"center","baseline":"middle","color":"black"},
  "encoding":{"x":{"field":"x","type":"quantitative","scale":{"domain":[0,1],"range":[0,2326],"nice":false,"zero":false},"axis":null},
   "y":{"field":"y","type":"quantitative","scale":{"domain":[0,1],"range":[0,1958],"nice":false,"zero":false},"axis":null},
   "text":{"field":"label"}}
 }
]
}
